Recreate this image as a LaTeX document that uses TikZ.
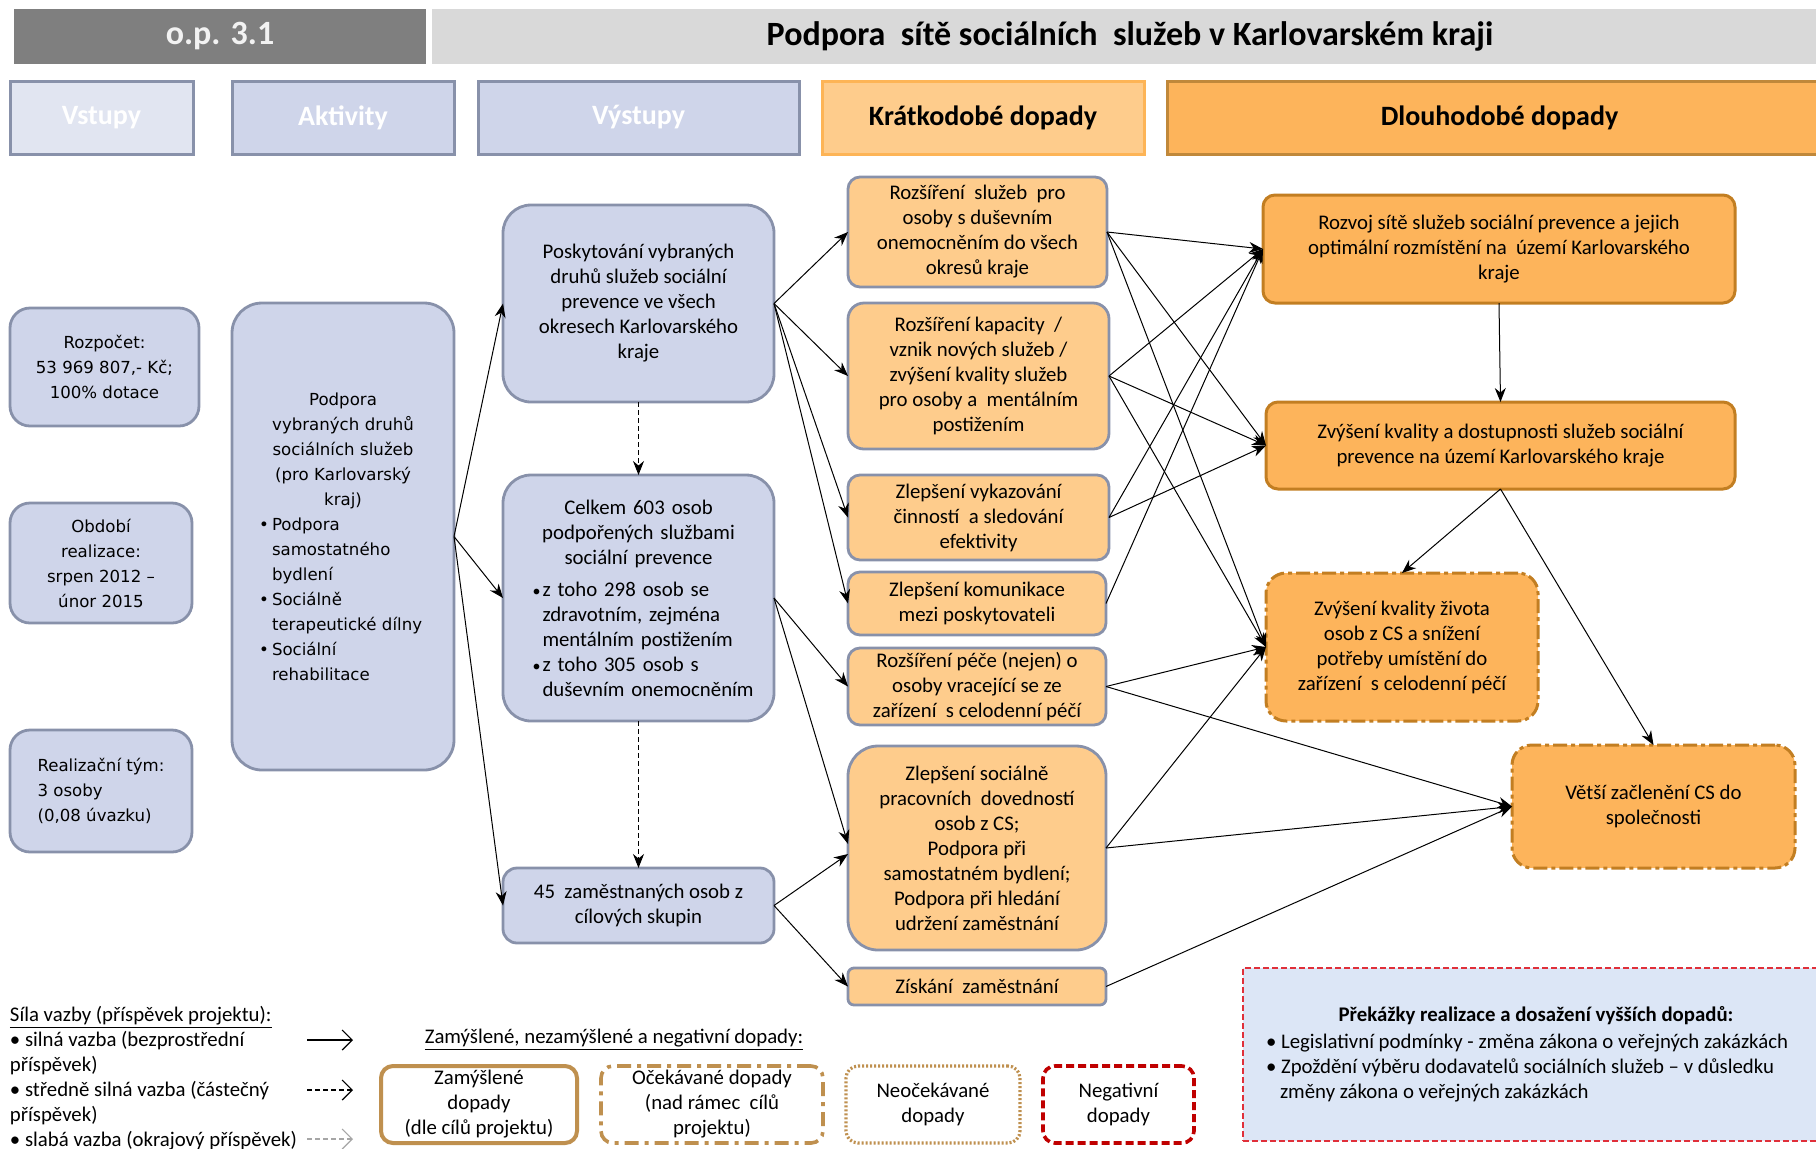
\documentclass[tikz,border=0pt]{standalone}
\usepackage{fontspec}
\setmainfont{Carlito}
\newfontfamily\vfont{DejaVu Sans}
\usetikzlibrary{arrows.meta}
\definecolor{hdark}{HTML}{7F7F7F}
\definecolor{hlight}{HTML}{D9D9D9}
\definecolor{bfill}{HTML}{CFD5EA}
\definecolor{bfillL}{HTML}{E1E5F1}
\definecolor{bdraw}{HTML}{8891AA}
\definecolor{sfill}{HTML}{FECC8C}
\definecolor{lfill}{HTML}{FDB45B}
\definecolor{ldraw}{HTML}{C27E22}
\definecolor{kdraw}{HTML}{FDB456}
\definecolor{dldraw}{HTML}{C0883A}
\definecolor{legbrown}{HTML}{BF904F}
\definecolor{negred}{HTML}{C00000}
\definecolor{pkfill}{HTML}{DCE6F6}
\definecolor{pkred}{HTML}{E0303A}
\newcommand\bl[1]{\makebox[#1][l]{\textbullet}}
\newcommand\sbl[1]{\makebox[#1][l]{\fontsize{8}{8}\selectfont\textbullet}}
\begin{document}
\begin{tikzpicture}[x=0.5pt,y=-0.5pt,
 every node/.style={inner sep=0pt,outer sep=0pt},
 txt/.style={font=\fontsize{10.4}{12.5}\selectfont},
 vtxt/.style={font=\vfont\fontsize{8.3}{12.5}\selectfont},
 bbox/.style={draw=bdraw,fill=bfill,line width=1.4pt,rounded corners=#1},
 bbox/.default=9pt,
 sbox/.style={draw=bdraw,fill=sfill,line width=1.4pt,rounded corners=#1,txt,align=center},
 sbox/.default=6pt,
 lbox/.style={draw=ldraw,fill=lfill,line width=1.5pt,rounded corners=#1,txt,align=center},
 lbox/.default=6pt,
 dashdot/.style={dash pattern=on 7pt off 2pt on 2pt off 2pt},
 colh/.style={line width=1.5pt,font=\bfseries\fontsize{14}{16}\selectfont,minimum height=36.5pt},
 arr/.style={-{Stealth[length=7pt,width=5.5pt]},line width=0.5pt},
 darr/.style={arr,dash pattern=on 2.5pt off 1.5pt},
 legbox/.style={fill=white,minimum height=38.5pt,rounded corners=6pt,txt,align=center},
]
\fill[white] (0,0) rectangle (1816,1148);
\useasboundingbox (0,0) rectangle (1816,1148);

% header
\node[fill=hdark,minimum width=206pt,minimum height=27.5pt,text=white!95!black,font=\bfseries\fontsize{17}{20}\selectfont] (h1) at (220,36.5) {o.p. 3.1};
\node[fill=hlight,minimum width=692pt,minimum height=27.5pt,font=\bfseries\fontsize{17}{20}\selectfont] (h2) at (1124,36.5) {\hspace*{6pt}Podpora\ \ sítě sociálních\ \ služeb v Karlovarském kraji};

% column headers
\node[colh,draw=bdraw,fill=bfillL,text=white,minimum width=91.5pt] (c1) at (101.5,117.5) {Vstupy};
\node[colh,draw=bdraw,fill=bfill,text=white,minimum width=111pt] (c2) at (343,117.5) {Aktivity};
\node[colh,draw=bdraw,fill=bfill,text=white,minimum width=160.5pt] (c3) at (638.5,117.5) {Výstupy};
\node[colh,draw=kdraw,fill=sfill,minimum width=161pt] (c4) at (983,117.5) {Krátkodobé dopady};
\node[colh,draw=dldraw,fill=lfill,minimum width=326.5pt] (c5) at (1493.5,117.5) {\hspace*{6pt}Dlouhodobé dopady};

% inputs
\node[bbox=10pt,vtxt,align=center,minimum width=94.5pt,minimum height=59pt] (in1) at (104.5,367) {Rozpočet:\\53\ 969\ 807,-\ Kč;\\100\%\ dotace};
\node[bbox=10pt,vtxt,align=center,minimum width=91pt,minimum height=60pt] (in2) at (101,563) {Období\\realizace:\\srpen 2012 –\\únor 2015};
\node[bbox=10pt,vtxt,align=left,minimum width=91pt,minimum height=61pt] (in3) at (101,791) {Realizační tým:\\3 osoby\\(0,08\ úvazku)};

% activity
\node[bbox=15pt,vtxt,minimum width=111pt,minimum height=233.5pt,text width=84pt] (act) at (343,536.5) {\centering Podpora\\vybraných druhů\\sociálních služeb\\(pro Karlovarský\\kraj)\par
\raggedright\parindent=0pt
\bl{6.5pt}Podpora\par
\hspace*{6.5pt}samostatného\par
\hspace*{6.5pt}bydlení\par
\bl{6.5pt}Sociálně\par
\hspace*{6.5pt}terapeutické dílny\par
\bl{6.5pt}Sociální\par
\hspace*{6.5pt}rehabilitace\par
\vspace*{22pt}};

% outputs
\node[bbox=14pt,txt,align=center,minimum width=135.5pt,minimum height=98.5pt] (o1) at (638.5,303.5) {Poskytování vybraných\\druhů služeb sociální\\prevence ve všech\\okresech Karlovarského\\kraje};
\node[bbox=14pt,txt,minimum width=135.5pt,minimum height=123pt,text width=120pt] (o2) at (638.5,598) {\centering Celkem 603 osob\\podpořených službami\\sociální prevence\par\vspace{3.5pt}
\raggedright\parindent=0pt
\hspace*{7pt}\sbl{5pt}z toho 298 osob se\par
\hspace*{12pt}zdravotním, zejména\par
\hspace*{12pt}mentálním postižením\par
\hspace*{7pt}\sbl{5pt}z toho 305 osob s\par
\hspace*{12pt}duševním onemocněním\par};
\node[bbox=7pt,txt,align=center,minimum width=135.5pt,minimum height=37.5pt] (o3) at (638.5,905.5) {45\ \ zaměstnaných osob z\\cílových skupin};

% short-term
\node[sbox,minimum width=129.5pt,minimum height=55pt] (s1) at (977.5,232) {Rozšíření\ \ služeb\ \ pro\\osoby s duševním\\onemocněním do všech\\okresů kraje};
\node[sbox=8pt,minimum width=130.5pt,minimum height=73pt] (s2) at (978.5,376) {Rozšíření kapacity\ \ /\\vznik nových služeb /\\zvýšení kvality služeb\\pro osoby a\ \ mentálním\\postižením};
\node[sbox,minimum width=130.5pt,minimum height=42.5pt] (s3) at (978.5,517.5) {Zlepšení vykazování\\činností\ \ a sledování\\efektivity};
\node[sbox,minimum width=129pt,minimum height=31.5pt] (s4) at (977,603.5) {Zlepšení komunikace\\mezi poskytovateli};
\node[sbox,minimum width=129pt,minimum height=38.5pt] (s5) at (977,686.5) {Rozšíření péče (nejen) o\\osoby vracející se ze\\zařízení\ \ s celodenní péčí};
\node[sbox=15pt,minimum width=129pt,minimum height=102pt] (s6) at (977,848) {Zlepšení sociálně\\pracovních\ \ dovedností\\osob z CS;\\Podpora při\\samostatném bydlení;\\Podpora při hledání\\udržení zaměstnání};
\node[sbox=3pt,minimum width=129pt,minimum height=18.5pt] (s7) at (977,986.5) {Získání\ \ zaměstnání};

% long-term
\node[lbox,minimum width=236pt,minimum height=54pt] (l1) at (1499,249) {Rozvoj sítě služeb sociální prevence a jejich\\optimální rozmístění na\ \ území Karlovarského\\kraje};
\node[lbox,minimum width=234.5pt,minimum height=43.5pt] (l2) at (1500.5,445.5) {Zvýšení kvality a dostupnosti služeb sociální\\prevence na území Karlovarského kraje};
\node[lbox=10pt,dashdot,minimum width=136pt,minimum height=74pt] (l3) at (1402,647) {Zvýšení kvality života\\osob z CS a snížení\\potřeby umístění do\\zařízení\ \ s celodenní péčí};
\node[lbox=10pt,dashdot,minimum width=141.5pt,minimum height=61.5pt] (l4) at (1653.5,806.5) {Větší začlenění CS do\\společnosti};

% connectors
\draw[arr] (act.east) -- (o1.west);
\draw[arr] (act.east) -- (o2.west);
\draw[arr] (act.east) -- (o3.west);
\draw[darr] (o1.south) -- (o2.north);
\draw[darr] (o2.south) -- (o3.north);
\foreach \t in {s1,s2,s3,s4} \draw[arr] (o1.east) -- (\t.west);
\draw[arr] (o2.east) -- (s5.west);
\draw[arr] (o2.east) -- ([yshift=2pt]s6.west);
\draw[arr] (o3.east) -- ([yshift=-3pt]s6.west);
\draw[arr] (o3.east) -- (s7.west);
\foreach \t in {l1,l2,l3} \draw[arr] (s1.east) -- (\t.west);
\foreach \t in {l1,l2,l3} \draw[arr] (s2.east) -- (\t.west);
\foreach \t in {l1,l2} \draw[arr] (s3.east) -- (\t.west);
\draw[arr] (s4.east) -- (l1.west);
\foreach \t in {l3,l4} \draw[arr] (s5.east) -- (\t.west);
\foreach \t in {l3,l4} \draw[arr] (s6.east) -- (\t.west);
\draw[arr] (s7.east) -- (l4.west);
\draw[arr] (l1.south) -- (l2.north);
\draw[arr] (l2.south) -- (l3.north);
\draw[arr] (l2.south) -- (l4.north);

% legend left
\node[txt,anchor=base west] (g1) at (10,1021) {\underline{Síla vazby (příspěvek projektu):}};
\node[txt,anchor=base west] (g2) at (10,1046) {\textbullet\ silná vazba (bezprostřední};
\node[txt,anchor=base west] (g3) at (10,1071) {příspěvek)};
\node[txt,anchor=base west] (g4) at (10,1096) {\textbullet\ středně silná vazba (částečný};
\node[txt,anchor=base west] (g5) at (10,1121) {příspěvek)};
\node[txt,anchor=base west] (g6) at (10,1146) {\textbullet\ slabá vazba (okrajový příspěvek)};
\coordinate (a1s) at (307,1040); \coordinate (a1e) at (353,1040);
\coordinate (a2s) at (307,1090); \coordinate (a2e) at (353,1090);
\coordinate (a3s) at (307,1139); \coordinate (a3e) at (353,1139);
\draw[-{Straight Barb[length=5pt,width=10pt]},line width=0.6pt] (a1s) -- (a1e);
\draw[-{Straight Barb[length=5pt,width=10pt]},line width=0.6pt,dash pattern=on 2.5pt off 1.5pt] (a2s) -- (a2e);
\draw[-{Straight Barb[length=5pt,width=10pt]},line width=0.6pt,gray!70,dash pattern=on 2.5pt off 1.5pt] (a3s) -- (a3e);

\node[txt] (gt) at (614,1040) {\underline{Zamýšlené, nezamýšlené a negativní dopady:}};
\node[legbox,draw=legbrown,line width=2pt,minimum width=98pt] (lb1) at (479,1104.5) {Zamýšlené\\dopady\\(dle cílů projektu)};
\node[legbox,draw=legbrown,line width=1.8pt,dash pattern=on 7pt off 3pt on 2pt off 3pt,minimum width=111pt] (lb2) at (712,1104.5) {Očekávané dopady\\(nad rámec\ \ cílů\\projektu)};
\node[legbox,draw=legbrown,line width=1.6pt,dash pattern=on 1pt off 1pt,minimum width=87pt] (lb3) at (933,1104.5) {Neočekávané\\dopady};
\node[legbox,draw=negred,line width=1.8pt,dash pattern=on 4pt off 2pt,minimum width=75.5pt] (lb4) at (1118.5,1104.5) {Negativní\\dopady};

% obstacles box
\node[draw=pkred,fill=pkfill,dash pattern=on 3pt off 1.5pt,line width=0.7pt,minimum width=289.5pt,minimum height=86.5pt] (pk) at (1532.5,1054.5) {};
\node[font=\bfseries\fontsize{10.4}{12.5}\selectfont] (pkh) at (1536,1016) {Překážky realizace a dosažení vyšších dopadů:};
\node[txt,anchor=base west] (pk1) at (1266,1048) {\textbullet\ Legislativní podmínky - změna zákona o veřejných zakázkách};
\node[txt,anchor=base west] (pk2) at (1266,1073) {\textbullet\ Zpoždění výběru dodavatelů sociálních služeb – v důsledku};
\node[txt,anchor=base west] (pk3) at (1280,1098) {změny zákona o veřejných zakázkách};
\end{tikzpicture}
\end{document}
